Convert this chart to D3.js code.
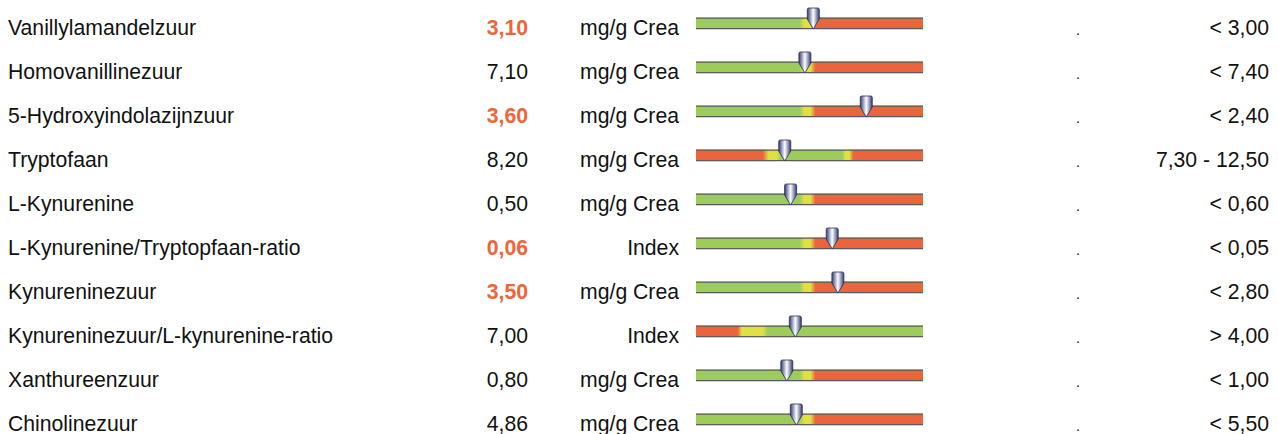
<!DOCTYPE html>
<html><head><meta charset="utf-8">
<script src="https://cdn.jsdelivr.net/npm/d3@7"></script>
<style>
html,body{margin:0;padding:0;background:#fff;overflow:hidden}
text{font-family:"Liberation Sans",Arial,sans-serif}
</style></head>
<body><svg id="c" width="1278" height="434"></svg>
<script>
const labels = ["Vanillylamandelzuur","Homovanillinezuur","5-Hydroxyindolazijnzuur","Tryptofaan","L-Kynurenine","L-Kynurenine/Tryptopfaan-ratio","Kynureninezuur","Kynureninezuur/L-kynurenine-ratio","Xanthureenzuur","Chinolinezuur"];
const values = [3.10, 7.10, 3.60, 8.20, 0.50, 0.06, 3.50, 7.00, 0.80, 4.86];
const units = ["mg/g Crea","mg/g Crea","mg/g Crea","mg/g Crea","mg/g Crea","Index","mg/g Crea","Index","mg/g Crea","mg/g Crea"];
const refKind = ["<","<","<","range","<","<","<",">","<","<"];
const refLow = [null,null,null,7.30,null,null,null,4.00,null,null];
const refHigh = [3.00,7.40,2.40,12.50,0.60,0.05,2.80,null,1.00,5.50];
const refTexts = ["< 3,00","< 7,40","< 2,40","7,30 - 12,50","< 0,60","< 0,05","< 2,80","> 4,00","< 1,00","< 5,50"];

const GREEN="#9dcc5b", RED="#eb643b", YELLOW="#dfe141", ORANGE="#f0643a";
const fmt = d3.formatLocale({decimal:",",thousands:".",grouping:[3],currency:["",""]}).format(".2f");

const svg = d3.select("#c");
const defs = svg.append("defs");
const rowY = d3.scaleLinear().domain([0,1]).range([17.7, 61.7]);
const barX0 = 696, barX1 = 923;
const FS = 21.2;

const mg = defs.append("linearGradient").attr("id","pin").attr("x1","0").attr("x2","1").attr("y1","0").attr("y2","0");
[["0","#363b66"],["0.22","#8c92b8"],["0.5","#ffffff"],["0.78","#8c92b8"],["1","#363b66"]].forEach(s=>mg.append("stop").attr("offset",s[0]).attr("stop-color",s[1]));

const n = labels.length;
for (let i=0;i<n;i++){
  const y = rowY(i);
  const base = y + 17.3;
  const g = svg.append("g");
  g.append("text").attr("x",8).attr("y",base).attr("font-size",FS).attr("fill","#111").text(labels[i]);
  const lo = refLow[i], hi = refHigh[i], v = values[i];
  const out = (refKind[i]==="<" && v>hi) || (refKind[i]===">" && v<lo) || (refKind[i]==="range" && (v<lo||v>hi));
  g.append("text").attr("x",528).attr("y",base).attr("text-anchor","end").attr("font-size",FS)
    .attr("font-weight",out?"bold":"normal").attr("fill",out?ORANGE:"#111").text(fmt(v));
  g.append("text").attr("x",679).attr("y",base).attr("text-anchor","end").attr("font-size",FS).attr("fill","#111").text(units[i]);
  g.append("text").attr("x",1078).attr("y",base).attr("text-anchor","middle").attr("font-size",14).attr("fill","#111").text(".");
  g.append("text").attr("x",1269).attr("y",base).attr("text-anchor","end").attr("font-size",FS).attr("fill","#111").text(refTexts[i]);

  let dom;
  if (refKind[i]==="<") dom=[0,2*hi];
  else if (refKind[i]===">") dom=[0,4*lo];
  else dom=[lo-(hi-lo), hi+(hi-lo)];
  const x = d3.scaleLinear().domain(dom).range([barX0,barX1]);
  const off = px => Math.max(0,Math.min(1,(px-barX0)/(barX1-barX0)));
  const gid = "bg"+i;
  const lg = defs.append("linearGradient").attr("id",gid).attr("gradientUnits","userSpaceOnUse")
    .attr("x1",barX0).attr("x2",barX1).attr("y1",0).attr("y2",0);
  let stops=[];
  if (refKind[i]==="<"){
    const t=x(hi);
    stops=[[0,GREEN],[off(t-10),GREEN],[off(t-5),YELLOW],[off(t+1),YELLOW],[off(t+6),RED],[1,RED]];
  } else if (refKind[i]===">"){
    const t=x(lo);
    stops=[[0,RED],[off(t-15),RED],[off(t-11),YELLOW],[off(t+10),YELLOW],[off(t+15),GREEN],[1,GREEN]];
  } else {
    const t1=x(lo), t2=x(hi);
    stops=[[0,RED],[off(t1-9),RED],[off(t1-3),YELLOW],[off(t1+5),YELLOW],[off(t1+9),GREEN],
           [off(t2-5),GREEN],[off(t2-2),YELLOW],[off(t2+2),YELLOW],[off(t2+6),RED],[1,RED]];
  }
  stops.forEach(s=>lg.append("stop").attr("offset",s[0]).attr("stop-color",s[1]));
  g.append("rect").attr("x",barX0).attr("y",y).attr("width",barX1-barX0).attr("height",11.3).attr("fill",`url(#${gid})`);
  g.append("line").attr("x1",barX0).attr("x2",barX1).attr("y1",y+0.5).attr("y2",y+0.5).attr("stroke","#5a5a5a").attr("stroke-width",1.2);
  g.append("line").attr("x1",barX0).attr("x2",barX1).attr("y1",y+11).attr("y2",y+11).attr("stroke","#5a5a5a").attr("stroke-width",1.2);

  const cx = x(v), tip = y+11.3, top = tip-21, hw=6;
  const p = `M${cx-hw},${top+1.5} Q${cx-hw},${top} ${cx-hw+1.5},${top} L${cx+hw-1.5},${top} Q${cx+hw},${top} ${cx+hw},${top+1.5} L${cx+hw},${top+11} L${cx},${tip} L${cx-hw},${top+11} Z`;
  g.append("path").attr("d",p).attr("fill","url(#pin)").attr("stroke","#2c3052").attr("stroke-width",0.8);
}
</script></body></html>
